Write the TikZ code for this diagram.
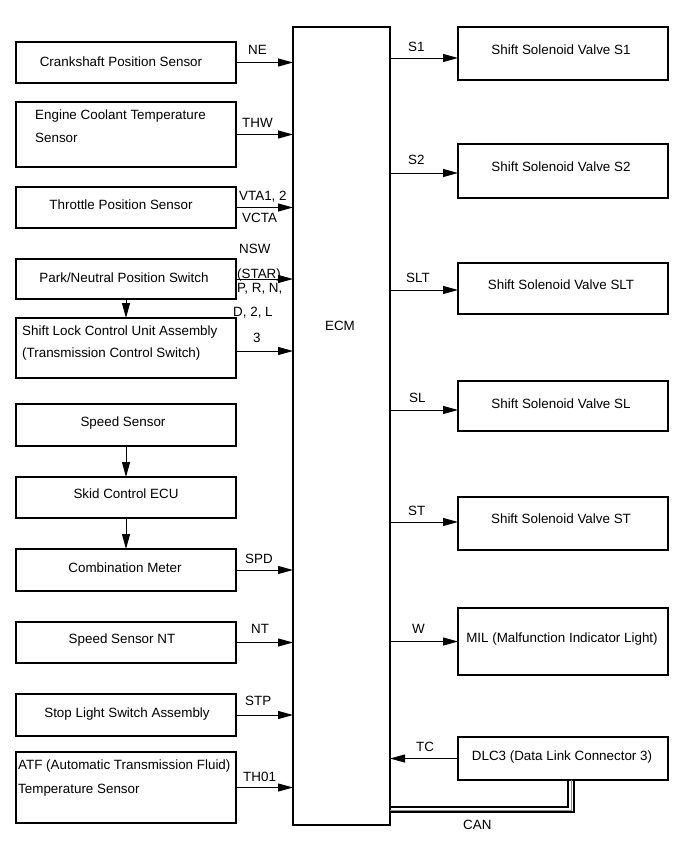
\documentclass[tikz,border=0pt]{standalone}
\usepackage{fontspec}
\setmainfont{Liberation Sans}
\usetikzlibrary{arrows.meta,fit}
\tikzset{
  box/.style={draw=black, line width=1.3pt, inner sep=0pt, outer sep=0pt},
  txt/.style={inner sep=0pt, font=\fontsize{13.4}{16}\selectfont},
  lbl/.style={inner sep=0pt, anchor=base west, font=\fontsize{13.4}{16}\selectfont},
  arr/.style={line width=1pt, -{Triangle[length=15pt,width=8pt]}},
  canblack/.style={line width=1.4pt, black},
  cangray/.style={line width=1pt, black!45},
}
\begin{document}
\begin{tikzpicture}[x=1pt,y=-1pt]
\useasboundingbox (0,0) rectangle (689,854);
% left boxes
\node[box, fit={(16,42) (236,83)}] (crank) {};
\node[box, fit={(16,102) (236,167)}] (ect) {};
\node[box, fit={(16,187) (236,228)}] (tps) {};
\node[box, fit={(16,259) (236,299)}] (pnp) {};
\node[box, fit={(16,318) (236,378)}] (slk) {};
\node[box, fit={(16,404) (236,446)}] (spd) {};
\node[box, fit={(16,477) (236,518)}] (skid) {};
\node[box, fit={(16,549) (236,591)}] (comb) {};
\node[box, fit={(16,622) (236,663)}] (nt) {};
\node[box, fit={(16,694) (236,736)}] (stp) {};
\node[box, fit={(16,752) (236,823)}] (atf) {};
% ECM
\node[box, fit={(293,27) (390,825)}] (ECM) {};
% right boxes
\node[box, fit={(458,27) (668,80)}] (s1) {};
\node[box, fit={(458,144) (668,198)}] (s2) {};
\node[box, fit={(458,263) (668,314)}] (slt) {};
\node[box, fit={(458,381) (668,431)}] (sl) {};
\node[box, fit={(458,497) (668,550)}] (st) {};
\node[box, fit={(458,608) (668,675)}] (mil) {};
\node[box, fit={(458,737) (668,780)}] (dlc) {};
% texts
\node[txt, anchor=base] (crankT) at (121,66) {Crankshaft Position Sensor};
\node[txt, anchor=base west] (ectT1) at (35,119) {Engine Coolant Temperature};
\node[txt, anchor=base west] (ectT2) at (35,142) {Sensor};
\node[txt, anchor=base] (tpsT) at (121,209) {Throttle Position Sensor};
\node[txt, anchor=base] (pnpT) at (124,282) {Park/Neutral Position Switch};
\node[txt, anchor=base west] (slkT1) at (22,335) {Shift Lock Control Unit Assembly};
\node[txt, anchor=base west] (slkT2) at (22,357) {(Transmission Control Switch)};
\node[txt, anchor=base] (spdT) at (123,426) {Speed Sensor};
\node[txt, anchor=base] (skidT) at (126,498) {Skid Control ECU};
\node[txt, anchor=base] (combT) at (125,572) {Combination Meter};
\node[txt, anchor=base] (ntT) at (122,643) {Speed Sensor NT};
\node[txt, anchor=base] (stpT) at (127,717) {Stop Light Switch Assembly};
\node[txt, anchor=base west] (atfT1) at (18,769) {ATF (Automatic Transmission Fluid)};
\node[txt, anchor=base west] (atfT2) at (18,793) {Temperature Sensor};
\node[txt, anchor=base] (ecmT) at (340,330) {ECM};
\node[txt, anchor=base] (s1T) at (561,54) {Shift Solenoid Valve S1};
\node[txt, anchor=base] (s2T) at (561,171) {Shift Solenoid Valve S2};
\node[txt, anchor=base] (sltT) at (561,289) {Shift Solenoid Valve SLT};
\node[txt, anchor=base] (slT) at (561,408) {Shift Solenoid Valve SL};
\node[txt, anchor=base] (stT) at (561,523) {Shift Solenoid Valve ST};
\node[txt, anchor=base] (milT) at (562,642) {MIL (Malfunction Indicator Light)};
\node[txt, anchor=base] (dlcT) at (562,760) {DLC3 (Data Link Connector 3)};
% signal labels
\node[lbl] (lNE) at (248,54) {NE};
\node[lbl] (lTHW) at (242,127) {THW};
\node[lbl] (lVTA) at (239,200) {VTA1, 2};
\node[lbl] (lVCTA) at (242,222) {VCTA};
\node[lbl] (lNSW) at (239,253) {NSW};
\node[lbl] (lSTAR) at (237,278) {(STAR)};
\node[lbl] (lPRN) at (237,292) {P, R, N,};
\node[lbl] (lD2L) at (233,316) {D, 2, L};
\node[lbl] (l3) at (253,342) {3};
\node[lbl] (lSPD) at (245,563) {SPD};
\node[lbl] (lNT) at (251,633) {NT};
\node[lbl] (lSTP) at (245,705) {STP};
\node[lbl] (lTH) at (243,781) {TH01};
\node[lbl] (lS1) at (408,51) {S1};
\node[lbl] (lS2) at (408,164) {S2};
\node[lbl] (lSLT) at (406,282) {SLT};
\node[lbl] (lSL) at (409,402) {SL};
\node[lbl] (lST) at (408,515) {ST};
\node[lbl] (lW) at (412,633) {W};
\node[lbl] (lTC) at (416,751) {TC};
\node[lbl] (lCAN) at (463,829) {CAN};
% left arrows into ECM
\draw[arr] (crank.east) -- (crank.east -| ECM.west);
\draw[arr] (ect.east) -- (ect.east -| ECM.west);
\draw[arr] (tps.east) -- (tps.east -| ECM.west);
\draw[arr] (pnp.east) -- (pnp.east -| ECM.west);
\draw[arr] ([yshift=-3pt]slk.east) -- ([yshift=-3pt]slk.east -| ECM.west);
\draw[arr] (comb.east) -- (comb.east -| ECM.west);
\draw[arr] (nt.east) -- (nt.east -| ECM.west);
\draw[arr] (stp.east) -- (stp.east -| ECM.west);
\draw[arr] (atf.east) -- (atf.east -| ECM.west);
% vertical arrows
\draw[arr] (pnp.south -| spd.south) -- (slk.north -| spd.south);
\draw[arr] (spd.south) -- (skid.north);
\draw[arr] (skid.south) -- (comb.north);
% right arrows
\draw[arr] ([yshift=-4.5pt]s1.west -| ECM.east) -- ([yshift=-4.5pt]s1.west);
\draw[arr] ([yshift=-2pt]s2.west -| ECM.east) -- ([yshift=-2pt]s2.west);
\draw[arr] ([yshift=-1.5pt]slt.west -| ECM.east) -- ([yshift=-1.5pt]slt.west);
\draw[arr] ([yshift=-4pt]sl.west -| ECM.east) -- ([yshift=-4pt]sl.west);
\draw[arr] ([yshift=1.5pt]st.west -| ECM.east) -- ([yshift=1.5pt]st.west);
\draw[arr] (mil.west -| ECM.east) -- (mil.west);
\draw[arr] (dlc.west) -- (dlc.west -| ECM.east);
% CAN bundle
\draw[canblack] ([xshift=5pt]dlc.south) |- ([yshift=18pt]ECM.south east);
\draw[cangray] ([xshift=8pt]dlc.south) |- ([yshift=15pt]ECM.south east);
\draw[canblack] ([xshift=11pt]dlc.south) |- ([yshift=13pt]ECM.south east);
\end{tikzpicture}
\end{document}
